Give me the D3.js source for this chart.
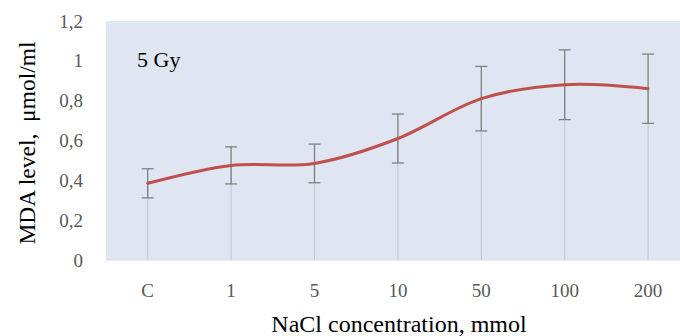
<!DOCTYPE html>
<html>
<head>
<meta charset="utf-8">
<script src="https://cdn.jsdelivr.net/npm/d3@7"></script>
<style>
body{margin:0;background:#fff;}
svg{display:block;font-family:"Liberation Serif","Times New Roman",serif;}
</style>
</head>
<body>
<svg width="680" height="336"></svg>
<script>
var categories = ["C", "1", "5", "10", "50", "100", "200"];
var mdaValues = [0.385, 0.475, 0.485, 0.61, 0.81, 0.88, 0.86];
var mdaErrors = [0.073, 0.093, 0.097, 0.123, 0.162, 0.175, 0.174];
var yTicks = [0, 0.2, 0.4, 0.6, 0.8, 1, 1.2];

var svg = d3.select("svg");
var plotLeft = 106, plotTop = 21, plotBottom = 260;
var step = 83.4;
var plotRight = plotLeft + step * categories.length;

var x = d3.scaleBand().domain(categories).range([plotLeft, plotRight]);
var y = d3.scaleLinear().domain([0, 1.2]).range([plotBottom, plotTop]);
var cx = function(d){ return x(d) + x.bandwidth() / 2; };

// plot background
svg.append("rect")
    .attr("x", plotLeft).attr("y", plotTop)
    .attr("width", plotRight - plotLeft).attr("height", plotBottom - plotTop)
    .attr("fill", "#dfe6f1");

svg.append("line")
    .attr("x1", plotLeft).attr("x2", plotRight)
    .attr("y1", plotBottom).attr("y2", plotBottom)
    .attr("stroke", "#d6dce6").attr("stroke-width", 1);

// drop lines
svg.selectAll(".drop").data(categories).enter().append("line")
    .attr("class", "drop")
    .attr("x1", cx).attr("x2", cx)
    .attr("y1", function(d, i){ return y(mdaValues[i]); })
    .attr("y2", plotBottom)
    .attr("stroke", "#c5cbd6").attr("stroke-width", 1.2);

// error bars
var eb = svg.selectAll(".err").data(categories).enter().append("g").attr("class", "err")
    .attr("stroke", "#7f7f7f").attr("stroke-width", 1.3);
eb.append("line")
    .attr("x1", cx).attr("x2", cx)
    .attr("y1", function(d, i){ return y(mdaValues[i] + mdaErrors[i]); })
    .attr("y2", function(d, i){ return y(mdaValues[i] - mdaErrors[i]); });
eb.append("line")
    .attr("x1", function(d){ return cx(d) - 6; }).attr("x2", function(d){ return cx(d) + 6; })
    .attr("y1", function(d, i){ return y(mdaValues[i] + mdaErrors[i]); })
    .attr("y2", function(d, i){ return y(mdaValues[i] + mdaErrors[i]); });
eb.append("line")
    .attr("x1", function(d){ return cx(d) - 6; }).attr("x2", function(d){ return cx(d) + 6; })
    .attr("y1", function(d, i){ return y(mdaValues[i] - mdaErrors[i]); })
    .attr("y2", function(d, i){ return y(mdaValues[i] - mdaErrors[i]); });

// smoothed line
var line = d3.line()
    .x(function(d, i){ return cx(categories[i]); })
    .y(function(d){ return y(d); })
    .curve(d3.curveCardinal.tension(0));
svg.append("path")
    .datum(mdaValues)
    .attr("d", line)
    .attr("fill", "none")
    .attr("stroke", "#c0504d")
    .attr("stroke-width", 3)
    .attr("stroke-linecap", "round");

// y axis
var yAxis = svg.append("g")
    .attr("transform", "translate(" + (plotLeft - 23) + ",0)")
    .call(d3.axisLeft(y).tickValues(yTicks).tickSize(0).tickPadding(0)
        .tickFormat(function(d){ return String(d).replace(".", ","); }));
yAxis.select(".domain").remove();
yAxis.selectAll("text").attr("fill", "#595959").style("font-size", "19px")
    .style("font-family", "Liberation Serif, serif");

// x axis
var xAxis = svg.append("g")
    .attr("transform", "translate(0," + (plotBottom + 23) + ")")
    .call(d3.axisBottom(x).tickSize(0).tickPadding(0));
xAxis.select(".domain").remove();
xAxis.selectAll("text").attr("fill", "#595959").style("font-size", "19px")
    .style("font-family", "Liberation Serif, serif");

// titles
svg.append("text")
    .attr("x", 399).attr("y", 332)
    .attr("text-anchor", "middle")
    .attr("font-size", 24).attr("fill", "#000")
    .text("NaCl concentration, mmol");

svg.append("text")
    .attr("transform", "translate(35,143) rotate(-90)")
    .attr("text-anchor", "middle")
    .attr("font-size", 23.5).attr("fill", "#000")
    .attr("xml:space", "preserve")
    .text("MDA level,  μmol/ml");

svg.append("text")
    .attr("x", 137).attr("y", 67)
    .attr("font-size", 22).attr("fill", "#000")
    .text("5 Gy");
</script>
</body>
</html>
